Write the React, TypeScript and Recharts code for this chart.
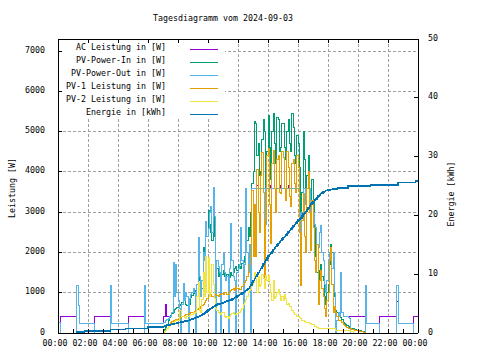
import React from 'react';
import { LineChart, Line, XAxis, YAxis, CartesianGrid } from 'recharts';

const N = null;
const FONT = "'DejaVu Sans Mono', 'Liberation Mono', monospace";
const FS = 8.3;

const TITLE = 'Tagesdiagramm vom 2024-09-03';
const Y_LEFT_TITLE = 'Leistung [W]';
const Y_RIGHT_TITLE = 'Energie [kWh]';

// one sample every 5 minutes, 00:00 .. 24:00 (289 samples, 12 per row = 1 hour)
const SAMPLES_PER_HOUR = 12;

const HOUR_TICKS = [0, 1, 2, 3, 4, 5, 6, 7, 8, 9, 10, 11, 12, 13, 14, 15, 16, 17, 18, 19, 20, 21, 22, 23, 24];
const HOUR_LABELS = ['00:00', '', '02:00', '', '04:00', '', '06:00', '', '08:00', '', '10:00', '', '12:00', '', '14:00', '', '16:00', '', '18:00', '', '20:00', '', '22:00', '', '00:00'];
const GRID_HOURS = [0, 2, 4, 6, 8, 10, 12, 14, 16, 18, 20, 22, 24];
const W_TICKS = [0, 1000, 2000, 3000, 4000, 5000, 6000, 7000];
const KWH_TICKS = [0, 10, 20, 30, 40, 50];
const W_DOMAIN = [0, 7300];
const KWH_DOMAIN = [0, 50];

const AC_W = [
  250, 250, 400, 400, 400, 400, 400, 400, 400, 400, 400, 400,
  400, 400, 400, 1170, 690, 230, 230, 230, 230, 230, 230, 230,
  230, 230, 230, 230, 230, 400, 400, 400, 400, 400, 400, 400,
  400, 400, 400, 400, 400, 400, 1170, 230, 230, 230, 230, 230,
  230, 230, 230, 230, 230, 230, 230, 230, 400, 400, 400, 400,
  400, 400, 400, 400, 400, 400, 400, 400, 400, 1170, 230, 230,
  230, 230, 230, 230, 230, 230, 230, 230, 230, 230, 230, 230,
  400, 400, 700, 400, 400, 400, 420, 500, 1740, 900, 1700, 1000,
  800, 600, 400, 700, 1240, 800, 1000, 900, 400, 850, 950, 1000,
  1100, 1000, 400, 1200, 2380, 1400, 900, 1300, 2000, 1800, 2780, 2400,
  2600, 3000, 3130, 2500, 3620, 2900, 400, 1800, 1640, 1500, 400, 1700,
  1980, 1500, 1300, 1400, 400, 1600, 2730, 1800, 1400, 1300, 400, 1500,
  1600, 1700, 2630, 1800, 400, 1700, 3600, 2000, 1500, 2200, 400, 3600,
  3600, 3600, 3600, 3660, 3600, 3600, 3600, 3600, 3600, 3600, 2700, 3600,
  3600, 3600, 3660, 3600, 3600, 3600, 3600, 3600, 3600, 3660, 3600, 3600,
  3600, 3600, 3600, 3600, 3660, 3600, 3600, 3600, 3600, 3600, 3600, 3600,
  3600, 3000, 2000, 3000, 3600, 3600, 3200, 3600, 3660, 3600, 2900, 3300,
  3000, 2700, 2630, 2200, 2130, 2500, 2680, 2000, 1810, 1200, 1000, 1300,
  1810, 2000, 2130, 1600, 2000, 1000, 400, 400, 500, 400, 1510, 500,
  400, 400, 400, 400, 400, 400, 400, 400, 400, 400, 400, 400,
  400, 400, 400, 400, 400, 400, 1170, 230, 230, 230, 230, 230,
  230, 230, 230, 230, 230, 400, 400, 400, 400, 400, 400, 400,
  400, 400, 400, 400, 400, 400, 400, 770, 230, 230, 230, 230,
  230, 230, 230, 230, 230, 230, 230, 230, 400, 400, 400, 400,
  400,
];

const PV_IN_W = [
  N, N, N, N, N, N, N, N, N, N, N, N,
  N, N, N, N, N, N, N, N, N, N, N, N,
  N, N, N, N, N, N, N, N, N, N, N, N,
  N, N, N, N, N, N, N, N, N, N, N, N,
  N, N, N, N, N, N, N, N, N, N, N, N,
  N, N, N, N, N, N, N, N, N, N, N, N,
  N, N, N, N, N, N, N, N, N, N, N, N,
  30, 80, 130, 200, 320, 380, 430, 480, 520, 580, 600, 640,
  640, 680, 700, 760, 850, 800, 700, 680, 640, 700, 880, 920,
  980, 1050, 950, 900, 1500, 1300, 1200, 1100, 2130, 1800, 2700, 2400,
  3050, 2700, 2500, 2300, 2880, 2400, 1810, 1600, 1400, 1500, 1310, 1450,
  1560, 1400, 1350, 1450, 1310, 1380, 1500, 1420, 1500, 1600, 1640, 1550,
  1700, 1650, 1600, 1720, 1740, 1900, 2000, 2300, 2630, 2400, 3000, 3700,
  4000, 5240, 5200, 4400, 4700, 3900, 4000, 4800, 5300, 5000, 2800, 4500,
  5400, 4600, 3800, 5000, 5450, 4700, 4200, 5350, 5300, 4500, 4600, 5200,
  5200, 4600, 4300, 5000, 5300, 4700, 4500, 5460, 5100, 4400, 4200, 4900,
  4700, 4100, 2200, 3500, 5000, 4300, 3300, 3900, 4400, 3600, 3000, 3800,
  3300, 2600, 1900, 1500, 1200, 1560, 1700, 1400, 1300, 900, 700, 1000,
  1200, 1700, 2200, 2000, 1600, 900, 570, 500, 400, 420, 380, 330,
  260, 230, 200, 180, 160, 140, 120, 110, 100, 90, 80, 70,
  60, 55, 50, 40, 30, 15, 0, N, N, N, N, N,
  N, N, N, N, N, N, N, N, N, N, N, N,
  N, N, N, N, N, N, N, N, N, N, N, N,
  N, N, N, N, N, N, N, N, N, N, N, N,
  N,
];

const PV_OUT_W = [
  250, 250, 0, 0, 0, 0, 0, 0, 0, 0, 0, 0,
  0, 0, 0, 1170, 690, 230, 230, 230, 230, 230, 230, 230,
  230, 230, 230, 230, 230, 0, 0, 0, 0, 0, 0, 0,
  0, 0, 0, 0, 0, 0, 1170, 230, 230, 230, 230, 230,
  230, 230, 230, 230, 230, 230, 230, 230, 0, 0, 0, 0,
  0, 0, 0, 0, 0, 0, 0, 0, 0, 1170, 230, 230,
  230, 230, 230, 230, 230, 230, 230, 230, 230, 230, 230, 230,
  250, 270, 300, 330, 370, 400, 420, 500, 1740, 900, 1700, 1000,
  800, 600, 0, 700, 1240, 800, 1000, 900, 0, 850, 950, 1000,
  1100, 1000, 0, 1200, 2380, 1400, 900, 1300, 2000, 1800, 2780, 2400,
  2600, 3000, 3130, 2500, 3620, 2900, 0, 1800, 1640, 1500, 0, 1700,
  1980, 1500, 1300, 1400, 0, 1600, 2730, 1800, 1400, 1300, 0, 1500,
  1600, 1700, 2630, 1800, 0, 1700, 3600, 2000, 1500, 2200, 0, 3600,
  3600, 3600, 3600, 3600, 3600, 3600, 3600, 3600, 3600, 3600, 2700, 3600,
  3600, 3600, 3600, 3600, 3600, 3600, 3600, 3600, 3600, 3600, 3600, 3600,
  3600, 3600, 3600, 3600, 3600, 3600, 3600, 3600, 3600, 3600, 3600, 3600,
  3600, 3000, 2000, 3000, 3600, 3600, 3200, 3600, 3600, 3600, 2900, 3300,
  3000, 2700, 2630, 2200, 2130, 2500, 2680, 2000, 1810, 1200, 1000, 1300,
  1810, 2000, 2130, 1600, 2000, 1000, 0, 300, 500, 400, 1510, 500,
  400, 400, 400, 400, 380, 350, 0, 0, 0, 0, 0, 0,
  0, 0, 0, 0, 0, 0, 1170, 230, 230, 230, 230, 230,
  230, 230, 230, 230, 230, 0, 0, 0, 0, 0, 0, 0,
  0, 0, 0, 0, 0, 0, 0, 1170, 230, 230, 230, 230,
  230, 230, 230, 230, 230, 230, 230, 230, 0, 0, 0, 0,
  0,
];

const PV1_W = [
  N, N, N, N, N, N, N, N, N, N, N, N,
  N, N, N, N, N, N, N, N, N, N, N, N,
  N, N, N, N, N, N, N, N, N, N, N, N,
  N, N, N, N, N, N, N, N, N, N, N, N,
  N, N, N, N, N, N, N, N, N, N, N, N,
  N, N, N, N, N, N, N, N, N, N, N, N,
  N, N, N, N, N, N, N, N, N, N, N, N,
  10, 30, 60, 100, 150, 200, 250, 280, 300, 310, 330, 340,
  350, 360, 380, 420, 420, 440, 450, 470, 480, 490, 500, 510,
  520, 530, 550, 580, 600, 620, 650, 680, 700, 750, 800, 850,
  900, 940, 950, 900, 900, 960, 950, 920, 900, 950, 950, 980,
  950, 1000, 1000, 960, 950, 1020, 1050, 1080, 1100, 1050, 1150, 1100,
  1100, 1080, 1070, 1150, 1200, 1250, 1300, 1400, 1500, 1700, 1900, 3550,
  1890, 3200, 1890, 4050, 3000, 2500, 3900, 4470, 3500, 1140, 2800, 4400,
  4590, 3200, 2230, 4200, 4540, 3600, 3000, 4300, 4400, 3500, 3470, 4500,
  4370, 3600, 3300, 4500, 4120, 3400, 3130, 4200, 4300, 3700, 3500, 4400,
  4120, 2500, 1190, 2800, 3470, 2400, 2000, 3600, 4000, 3000, 2060, 3300,
  2630, 1800, 1500, 2200, 700, 1300, 1560, 1100, 900, 600, 400, 800,
  1000, 1800, 2130, 1200, 500, 650, 500, 420, 320, 300, 300, 260,
  200, 180, 150, 130, 120, 110, 100, 90, 80, 70, 60, 55,
  50, 45, 40, 30, 20, 10, 0, N, N, N, N, N,
  N, N, N, N, N, N, N, N, N, N, N, N,
  N, N, N, N, N, N, N, N, N, N, N, N,
  N, N, N, N, N, N, N, N, N, N, N, N,
  N,
];

const PV2_W = [
  N, N, N, N, N, N, N, N, N, N, N, N,
  N, N, N, N, N, N, N, N, N, N, N, N,
  N, N, N, N, N, N, N, N, N, N, N, N,
  N, N, N, N, N, N, N, N, N, N, N, N,
  N, N, N, N, N, N, N, N, N, N, N, N,
  N, N, N, N, N, N, N, N, N, N, N, N,
  N, N, N, N, N, N, N, N, N, N, N, N,
  10, 30, 60, 100, 150, 180, 200, 230, 250, 280, 320, 300,
  300, 560, 550, 400, 400, 380, 350, 420, 400, 430, 450, 470,
  500, 480, 520, 900, 1250, 550, 500, 820, 1500, 900, 1900, 1000,
  1880, 900, 1000, 1700, 1200, 850, 600, 550, 500, 480, 450, 500,
  500, 420, 380, 400, 370, 420, 450, 480, 500, 470, 450, 480,
  500, 520, 550, 600, 700, 760, 820, 900, 1000, 1050, 1070, 1200,
  1250, 1490, 1350, 1000, 1400, 1150, 1200, 1450, 1350, 1100, 1440, 1300,
  1440, 1200, 1000, 800, 1300, 850, 900, 1000, 1070, 950, 800, 900,
  800, 950, 850, 700, 740, 650, 650, 560, 500, 470, 450, 420,
  400, 380, 350, 320, 300, 280, 270, 260, 260, 240, 230, 210,
  200, 170, 150, 130, 120, 110, 100, 100, 100, 100, 100, 100,
  100, 100, 100, 100, 100, 100, 60, 60, 60, 60, 60, 60,
  60, 60, 60, 60, 50, 50, 30, 30, 0, N, N, N,
  N, N, N, N, N, N, N, N, N, N, N, N,
  N, N, N, N, N, N, N, N, N, N, N, N,
  N, N, N, N, N, N, N, N, N, N, N, N,
  N, N, N, N, N, N, N, N, N, N, N, N,
  N,
];

const ENERGY_KWH = [
  N, N, N, N, N, N, N, N, N, N, N, N,
  N, N, 0.17, 0.17, 0.17, 0.17, 0.17, 0.17, 0.17, 0.34, 0.34, 0.34,
  0.34, 0.34, 0.34, 0.34, 0.34, 0.34, 0.34, 0.34, 0.34, 0.34, 0.34, 0.34,
  0.34, 0.34, 0.34, 0.34, 0.34, 0.34, 0.56, 0.56, 0.56, 0.56, 0.56, 0.56,
  0.56, 0.56, 0.56, 0.56, 0.56, 0.56, 0.8, 0.8, 0.8, 0.8, 0.8, 0.8,
  0.8, 0.8, 0.8, 0.8, 0.8, 0.8, 0.8, 0.8, 0.8, 0.8, 0.8, 0.8,
  1.02, 1.02, 1.02, 1.02, 1.02, 1.02, 1.02, 1.02, 1.02, 1.02, 1.02, 1.02,
  1.1, 1.18, 1.25, 1.3, 1.35, 1.4, 1.45, 1.5, 1.55, 1.6, 1.65, 1.7,
  1.75, 1.8, 1.85, 1.9, 1.95, 2.0, 2.05, 2.1, 2.15, 2.22, 2.3, 2.38,
  2.45, 2.52, 2.6, 2.7, 2.8, 2.9, 3.0, 3.12, 3.25, 3.4, 3.55, 3.72,
  3.9, 4.05, 4.2, 4.35, 4.5, 4.62, 4.75, 4.82, 4.9, 4.97, 5.05, 5.12,
  5.2, 5.27, 5.35, 5.42, 5.5, 5.57, 5.65, 5.77, 5.9, 6.02, 6.15, 6.27,
  6.4, 6.52, 6.65, 6.77, 6.9, 7.05, 7.2, 7.4, 7.6, 7.9, 8.2, 8.55,
  8.9, 9.25, 9.6, 9.95, 10.3, 10.65, 11.0, 11.35, 11.7, 12.05, 12.4, 12.75,
  13.1, 13.35, 13.6, 13.9, 14.2, 14.45, 14.7, 14.95, 15.2, 15.45, 15.7, 15.95,
  16.2, 16.45, 16.7, 16.95, 17.2, 17.45, 17.7, 17.95, 18.2, 18.45, 18.7, 18.95,
  19.2, 19.4, 19.6, 19.9, 20.2, 20.45, 20.7, 21.0, 21.3, 21.6, 21.9, 22.15,
  22.4, 22.6, 22.8, 23.05, 23.3, 23.5, 23.7, 23.85, 24.0, 24.1, 24.2, 24.25,
  24.3, 24.35, 24.4, 24.42, 24.45, 24.47, 24.5, 24.6, 24.7, 24.7, 24.7, 24.7,
  24.7, 24.7, 24.7, 24.7, 25.0, 25.0, 25.0, 25.0, 25.0, 25.0, 25.0, 25.0,
  25.0, 25.0, 25.0, 25.0, 25.0, 25.0, 25.0, 25.0, 25.0, 25.0, 25.2, 25.2,
  25.2, 25.2, 25.2, 25.2, 25.2, 25.2, 25.2, 25.2, 25.2, 25.2, 25.2, 25.2,
  25.2, 25.2, 25.2, 25.2, 25.2, 25.2, 25.2, 25.2, 25.6, 25.6, 25.6, 25.6,
  25.6, 25.6, 25.6, 25.6, 25.6, 25.6, 25.6, 25.6, 25.6, 25.6, 25.85, 25.85,
  25.85,
];

const SERIES = [
  { key: 'ac', name: 'AC Leistung in [W]', color: '#9400d3', axis: 'l', width: 1 },
  { key: 'pin', name: 'PV-Power-In in [W]', color: '#009e73', axis: 'l', width: 1 },
  { key: 'pout', name: 'PV-Power-Out in [W]', color: '#56b4e9', axis: 'l', width: 1 },
  { key: 'pv1', name: 'PV-1 Leistung in [W]', color: '#e69f00', axis: 'l', width: 1 },
  { key: 'pv2', name: 'PV-2 Leistung in [W]', color: '#f0e442', axis: 'l', width: 1 },
  { key: 'e', name: 'Energie in [kWh]', color: '#0072b2', axis: 'r', width: 1.5 },
];

const txt = { fontFamily: FONT, fontSize: FS, fill: '#000' };

const BottomTick = (props: any) => {
  const { x, y, payload } = props;
  const label = HOUR_LABELS[HOUR_TICKS.indexOf(payload.value)] || '';
  return (
    <text x={x - 3} y={y + 6} textAnchor="middle" {...txt}>
      {label}
    </text>
  );
};

const LeftTick = (props: any) => {
  const { x, y, payload } = props;
  return (
    <text x={x} y={y + 1.5} textAnchor="end" {...txt}>
      {payload.value}
    </text>
  );
};

const RightTick = (props: any) => {
  const { x, y, payload } = props;
  return (
    <text x={x} y={y + 1.5} textAnchor="start" {...txt}>
      {payload.value}
    </text>
  );
};

export default function App() {
  const table = AC_W.map((ac, i) => ({
    t: i / SAMPLES_PER_HOUR,
    ac,
    pin: PV_IN_W[i],
    pout: PV_OUT_W[i],
    pv1: PV1_W[i],
    pv2: PV2_W[i],
    e: ENERGY_KWH[i],
  }));

  const axisStroke = { stroke: '#000', strokeWidth: 1 };

  return (
    <div
      style={{
        position: 'absolute',
        left: 0,
        top: 0,
        width: 480,
        height: 360,
        background: '#fff',
        shapeRendering: 'crispEdges',
      }}
    >
      <LineChart
        width={480}
        height={360}
        data={table}
        margin={{ top: 0, right: 0, bottom: 0, left: 0 }}
        style={{ shapeRendering: 'crispEdges' }}
      >
        <CartesianGrid xAxisId="top" yAxisId="l" stroke="#a0a0a0" strokeDasharray="3 2" />
        {SERIES.map((s) => (
          <Line
            key={s.key}
            xAxisId="bottom"
            yAxisId={s.axis}
            dataKey={s.key}
            name={s.name}
            type="stepAfter"
            stroke={s.color}
            strokeWidth={s.width}
            dot={false}
            activeDot={false}
            connectNulls={false}
            isAnimationActive={false}
          />
        ))}
        <XAxis
          xAxisId="bottom"
          dataKey="t"
          type="number"
          domain={[0, 24]}
          ticks={HOUR_TICKS}
          interval={0}
          height={27}
          tickSize={-4}
          tickMargin={11}
          axisLine={axisStroke}
          tickLine={axisStroke}
          tick={<BottomTick />}
          allowDataOverflow
        />
        <XAxis
          xAxisId="top"
          orientation="top"
          dataKey="t"
          type="number"
          domain={[0, 24]}
          ticks={GRID_HOURS}
          interval={0}
          height={39}
          tickSize={-4}
          axisLine={axisStroke}
          tickLine={axisStroke}
          tickFormatter={() => ''}
          allowDataOverflow
        />
        <YAxis
          yAxisId="l"
          type="number"
          domain={W_DOMAIN}
          ticks={W_TICKS}
          interval={0}
          width={58}
          tickSize={-4}
          tickMargin={17}
          axisLine={axisStroke}
          tickLine={axisStroke}
          tick={<LeftTick />}
          allowDataOverflow
        />
        <YAxis
          yAxisId="r"
          orientation="right"
          type="number"
          domain={KWH_DOMAIN}
          ticks={KWH_TICKS}
          interval={0}
          width={62}
          tickSize={-4}
          tickMargin={14}
          axisLine={axisStroke}
          tickLine={axisStroke}
          tick={<RightTick />}
          allowDataOverflow
        />
      </LineChart>
      <svg
        width={480}
        height={360}
        style={{ position: 'absolute', left: 0, top: 0, pointerEvents: 'none' }}
      >
        <text x={223} y={20.5} textAnchor="middle" {...txt}>
          {TITLE}
        </text>
        <text x={15} y={188} transform="rotate(-90 15 188)" textAnchor="middle" {...txt}>
          {Y_LEFT_TITLE}
        </text>
        <text x={454} y={194} transform="rotate(-90 454 194)" textAnchor="middle" {...txt}>
          {Y_RIGHT_TITLE}
        </text>
        <rect x={63} y={44} width={162} height={74} fill="#fff" />
        {SERIES.map((s, k) => (
          <g key={s.key}>
            <text x={166} y={50 + 13 * k} textAnchor="end" {...txt}>
              {s.name}
            </text>
            <line
              x1={190}
              x2={218}
              y1={49 + 13 * k}
              y2={49 + 13 * k}
              stroke={s.color}
              strokeWidth={1}
              shapeRendering="crispEdges"
            />
          </g>
        ))}
      </svg>
    </div>
  );
}
